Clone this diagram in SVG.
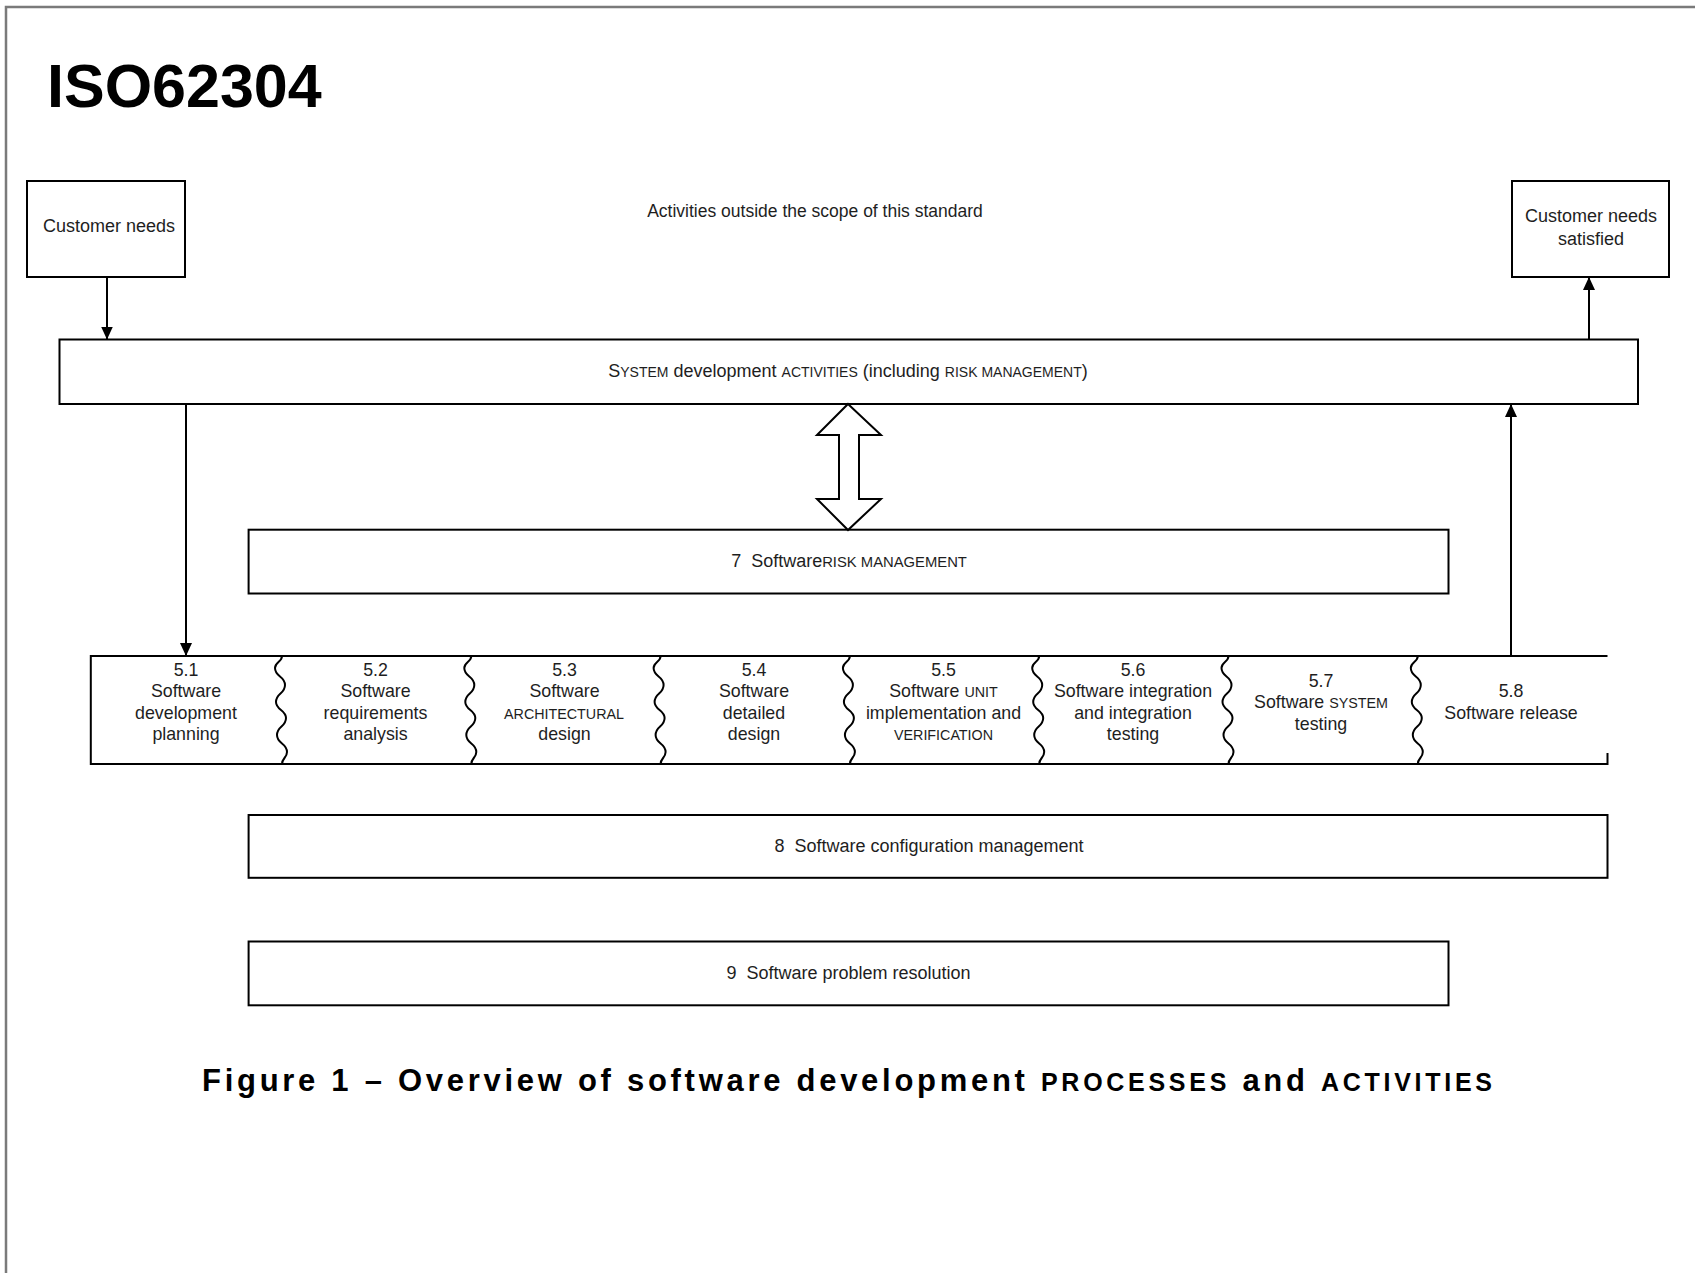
<svg xmlns="http://www.w3.org/2000/svg" width="1695" height="1273" viewBox="0 0 1695 1273">
<style>
text{font-family:"Liberation Sans",Arial,sans-serif;fill:#1e1e1e;white-space:pre;}
.t{font-size:17.5px;}
.b{font-size:18px;}
.s{font-size:17.8px;}
.sc{font-size:14.3px;}
.box{fill:none;stroke:#000;stroke-width:2;}
.ln{fill:none;stroke:#000;stroke-width:2;}
.wave{fill:none;stroke:#000;stroke-width:2;}
</style>
<defs>
<marker id="ah" markerUnits="userSpaceOnUse" markerWidth="14" markerHeight="14" viewBox="0 0 14 14" refX="13" refY="7" orient="auto">
<path d="M0,1 L13,7 L0,13 Z" fill="#000"/>
</marker>
</defs>
<rect width="1695" height="1273" fill="#fff"/>
<g id="frame">
<path d="M6,1273 V7 H1695" fill="none" stroke="#7a7a7a" stroke-width="2.5"/>
</g>
<text id="title" x="47" y="107" style="font-size:61px;font-weight:bold;fill:#000">ISO62304</text>
<g id="customer-needs">
<rect class="box" x="27" y="181" width="158" height="96"/>
<text class="b" x="109" y="232" text-anchor="middle">Customer needs</text>
</g>
<g id="customer-needs-satisfied">
<rect class="box" x="1512" y="181" width="157" height="96"/>
<text class="b" x="1591" y="222" text-anchor="middle">Customer needs</text>
<text class="b" x="1591" y="245" text-anchor="middle">satisfied</text>
</g>
<text id="outside-scope" class="t" x="815" y="217" text-anchor="middle">Activities outside the scope of this standard</text>
<g id="system-dev">
<rect class="box" x="59.5" y="339.5" width="1578.5" height="64.5"/>
<text x="848" y="376.5" text-anchor="middle" style="font-size:18px">S<tspan style="font-size:14px">YSTEM</tspan> development <tspan style="font-size:14px">ACTIVITIES</tspan> (including <tspan style="font-size:14px">RISK MANAGEMENT</tspan>)</text>
</g>
<g id="risk-mgmt">
<rect class="box" x="248.6" y="529.7" width="1199.9" height="63.8"/>
<text x="849" y="566.5" text-anchor="middle" class="b">7  Software<tspan style="font-size:14.8px">RISK MANAGEMENT</tspan></text>
</g>
<g id="activities">
<path class="ln" d="M1607.5,656 H90.8 V764 H1607.5 V753"/>
<path class="wave" id="w1" d="M282,656 C282,662 275,662 275,668 C275,677 285,676 285,685 C285,694 276,693 276,702 C276,710 286,710 286,718 C286,727 277,726 277,735 C277,744 287,743 287,752 C287,758 282,758 282,764"/>
<use href="#w1" x="189.3"/>
<use href="#w1" x="378.6"/>
<use href="#w1" x="567.9"/>
<use href="#w1" x="757.2"/>
<use href="#w1" x="946.5"/>
<use href="#w1" x="1135.8"/>
</g>
<g id="a51">
<text class="s" x="186" y="675.5" text-anchor="middle">5.1</text>
<text class="s" x="186" y="697" text-anchor="middle">Software</text>
<text class="s" x="186" y="718.5" text-anchor="middle">development</text>
<text class="s" x="186" y="740" text-anchor="middle">planning</text>
</g>
<g id="a52">
<text class="s" x="375.5" y="675.5" text-anchor="middle">5.2</text>
<text class="s" x="375.5" y="697" text-anchor="middle">Software</text>
<text class="s" x="375.5" y="718.5" text-anchor="middle">requirements</text>
<text class="s" x="375.5" y="740" text-anchor="middle">analysis</text>
</g>
<g id="a53">
<text class="s" x="564.5" y="675.5" text-anchor="middle">5.3</text>
<text class="s" x="564.5" y="697" text-anchor="middle">Software</text>
<text class="sc" x="564" y="718.5" text-anchor="middle">ARCHITECTURAL</text>
<text class="s" x="564.5" y="740" text-anchor="middle">design</text>
</g>
<g id="a54">
<text class="s" x="754" y="675.5" text-anchor="middle">5.4</text>
<text class="s" x="754" y="697" text-anchor="middle">Software</text>
<text class="s" x="754" y="718.5" text-anchor="middle">detailed</text>
<text class="s" x="754" y="740" text-anchor="middle">design</text>
</g>
<g id="a55">
<text class="s" x="943.5" y="675.5" text-anchor="middle">5.5</text>
<text class="s" x="943.5" y="697" text-anchor="middle">Software <tspan class="sc">UNIT</tspan></text>
<text class="s" x="943.5" y="718.5" text-anchor="middle">implementation and</text>
<text class="sc" x="943.5" y="740" text-anchor="middle">VERIFICATION</text>
</g>
<g id="a56">
<text class="s" x="1133" y="675.5" text-anchor="middle">5.6</text>
<text class="s" x="1133" y="697" text-anchor="middle">Software integration</text>
<text class="s" x="1133" y="718.5" text-anchor="middle">and integration</text>
<text class="s" x="1133" y="740" text-anchor="middle">testing</text>
</g>
<g id="a57">
<text class="s" x="1321" y="686.5" text-anchor="middle">5.7</text>
<text class="s" x="1321" y="708" text-anchor="middle">Software <tspan class="sc">SYSTEM</tspan></text>
<text class="s" x="1321" y="729.5" text-anchor="middle">testing</text>
</g>
<g id="a58">
<text class="s" x="1511" y="697" text-anchor="middle">5.8</text>
<text class="s" x="1511" y="718.5" text-anchor="middle">Software release</text>
</g>
<g id="config-mgmt">
<rect class="box" x="248.6" y="815" width="1358.9" height="62.8"/>
<text class="b" x="929" y="851.5" text-anchor="middle">8  Software configuration management</text>
</g>
<g id="problem-res">
<rect class="box" x="248.6" y="941.5" width="1199.9" height="63.8"/>
<text class="b" x="848.5" y="978.5" text-anchor="middle">9  Software problem resolution</text>
</g>
<g id="connectors">
<line class="ln" x1="107" y1="277" x2="107" y2="339.5" marker-end="url(#ah)"/>
<line class="ln" x1="1589" y1="339.5" x2="1589" y2="277" marker-end="url(#ah)"/>
<line class="ln" x1="186" y1="404" x2="186" y2="656" marker-end="url(#ah)"/>
<line class="ln" x1="1511" y1="656" x2="1511" y2="404" marker-end="url(#ah)"/>
<polygon points="848,404 881,435 859,435 859,499 881,499 848,530 817,499 839,499 839,435 817,435" fill="#fff" stroke="#000" stroke-width="2"/>
</g>
<text id="caption" x="202" y="1091" textLength="1290" lengthAdjust="spacing" style="font-size:31px;font-weight:bold;fill:#000">Figure 1 – Overview of software development <tspan style="font-size:25px">PROCESSES</tspan> and <tspan style="font-size:25px">ACTIVITIES</tspan></text>
</svg>
